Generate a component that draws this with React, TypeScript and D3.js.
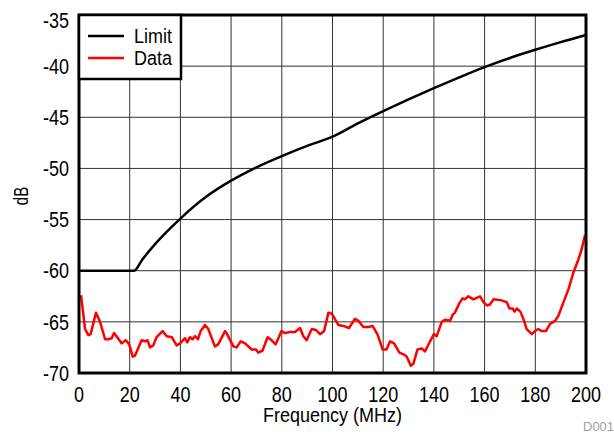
import React, { useEffect, useRef } from 'react';
import * as d3 from 'd3';

// Limit curve (MHz, dB)
const limitFreq = [0, 21.7, 25, 30, 40, 50, 60, 70, 80, 90, 100, 110, 120, 130, 140, 150, 160, 170, 180, 190, 200];
const limitDb = [-60, -60, -58.9, -57.4, -54.9, -52.8, -51.2, -49.9, -48.8, -47.8, -46.9, -45.6, -44.4, -43.25, -42.15, -41.1, -40.1, -39.2, -38.4, -37.65, -36.95];

// Measured data (MHz, dB)
const dataFreq = [
    0.8, 2.4, 3.7, 4.6, 6.7, 8.3, 10.3, 11.6, 12.9, 13.8, 14.8, 16.8, 18.5, 19.8, 21.2, 22.1, 24.7, 26, 27, 28,
    29.3, 30.6, 33, 34.6, 36.6, 38.5, 39.9, 41.8, 42.7, 43.8, 44.8, 45.8, 46.9, 48, 49.7, 51, 53.6, 54.9, 57.6, 58.2,
    60.9, 62.2, 63.8, 65.5, 68.1, 69.8, 70.7, 72.4, 74.4, 76, 77.6, 79.9, 81.2, 83.2, 85.2, 87.2, 88.5, 89.8, 91.8, 93.5,
    95.1, 96.7, 98.4, 99.7, 102.3, 104.3, 106.5, 108.9, 110.2, 112.2, 114.2, 115.8, 117.7, 119.8, 121.3, 122.7, 124.3, 126.4, 128.2, 129.3,
    130.9, 131.9, 133.5, 135.2, 136.5, 138.5, 140, 141.1, 143.1, 144.4, 146.4, 147.4, 148.3, 150, 151.3, 152.2, 153.6, 155.5, 158.2, 159.6,
    161, 162.1, 163.5, 166.7, 168.8, 169.8, 171.1, 171.8, 172.7, 174.1, 175.3, 176.6, 178.6, 179.9, 181.2, 182.5, 184.2, 185.8, 187.8, 189.1,
    191.1, 193.1, 195, 197, 198.3, 199.6,
];
const dataDb = [
    -62.4, -65.7, -66.3, -66.2, -64.1, -65.0, -66.7, -66.7, -66.6, -66.1, -66.4, -67.1, -66.8, -67.2, -68.4, -68.3, -66.8, -66.9, -66.8, -67.5,
    -67.3, -66.5, -65.9, -66.4, -66.5, -67.3, -67.1, -66.6, -67.0, -66.5, -66.7, -66.4, -66.7, -65.9, -65.3, -65.7, -67.4, -67.2, -65.9, -66.1,
    -67.4, -67.5, -66.9, -67.1, -67.7, -67.7, -68.0, -67.8, -66.5, -66.8, -67.2, -65.9, -66.1, -66.0, -66.0, -65.6, -66.4, -66.8, -65.7, -65.8,
    -66.2, -65.9, -64.1, -64.2, -65.3, -65.4, -65.6, -64.7, -64.9, -65.5, -65.5, -65.4, -66.2, -67.7, -67.7, -66.9, -67.1, -68.0, -68.2, -68.4,
    -69.3, -69.1, -67.7, -67.6, -67.9, -66.9, -66.2, -66.4, -65.0, -64.8, -64.9, -64.3, -64.1, -63.2, -62.7, -62.8, -62.5, -62.8, -62.5, -63.1,
    -63.4, -63.3, -62.8, -62.9, -63.1, -63.7, -63.7, -64.0, -63.7, -64.0, -64.7, -65.7, -66.2, -65.9, -65.7, -65.9, -65.9, -65.2, -64.9, -64.4,
    -63.1, -61.8, -60.2, -58.9, -57.9, -56.5,
];

const xTicks = [0, 20, 40, 60, 80, 100, 120, 140, 160, 180, 200];
const yTicks = [-35, -40, -45, -50, -55, -60, -65, -70];
const legendItems = [
    { label: 'Limit', color: '#000000' },
    { label: 'Data', color: '#ff0000' },
];

const W = 614;
const H = 437;
const margin = { top: 15, right: 28, bottom: 64, left: 79 };
const font = '"Liberation Sans", Arial, sans-serif';
const stretch = 1.18; // the original glyphs are taller than they are wide

export default function App() {
    const svgRef = useRef<SVGSVGElement | null>(null);

    useEffect(() => {
        const svg = d3.select(svgRef.current);
        svg.selectAll('*').remove();

        const x = d3.scaleLinear().domain([0, 200]).range([margin.left, W - margin.right]);
        const y = d3.scaleLinear().domain([-70, -35]).range([H - margin.bottom, margin.top]);

        // grid
        const grid = svg.append('g').attr('stroke', '#333').attr('stroke-width', 1);
        xTicks.forEach((t) => {
            grid.append('line')
                .attr('x1', x(t)).attr('x2', x(t))
                .attr('y1', y(-35)).attr('y2', y(-70));
        });
        yTicks.forEach((t) => {
            grid.append('line')
                .attr('x1', x(0)).attr('x2', x(200))
                .attr('y1', y(t)).attr('y2', y(t));
        });

        // tick labels
        svg.append('g').selectAll('text')
            .data(xTicks).enter().append('text')
            .attr('transform', (d) => `translate(${x(d)},402) scale(1,${stretch})`)
            .attr('text-anchor', 'middle')
            .attr('font-family', font).attr('font-size', 18)
            .text((d) => String(d));
        svg.append('g').selectAll('text')
            .data(yTicks).enter().append('text')
            .attr('transform', (d) => `translate(69,${Math.max(y(d), 20.5) + 7.7}) scale(1,${stretch})`)
            .attr('text-anchor', 'end')
            .attr('font-family', font).attr('font-size', 18)
            .text((d) => String(d));

        // axis titles
        svg.append('text')
            .attr('transform', `translate(${(x(0) + x(200)) / 2},422) scale(1,1.12)`)
            .attr('text-anchor', 'middle')
            .attr('font-family', font).attr('font-size', 18)
            .text('Frequency (MHz)');
        svg.append('text')
            .attr('transform', `translate(27.5,${(y(-35) + y(-70)) / 2 + 2}) rotate(-90) scale(1,1.35)`)
            .attr('text-anchor', 'middle')
            .attr('font-family', font).attr('font-size', 15)
            .text('dB');
        svg.append('text')
            .attr('transform', 'translate(583,431) scale(1,1.05)')
            .attr('font-family', font).attr('font-size', 13)
            .attr('fill', '#a0a0a0')
            .text('D001');

        // series
        const limitLine = d3.line<number>()
            .x((d, i) => x(limitFreq[i]))
            .y((d) => y(d))
            .curve(d3.curveMonotoneX);
        svg.append('path')
            .attr('d', limitLine(limitDb))
            .attr('fill', 'none').attr('stroke', '#000').attr('stroke-width', 2.5);

        const dataLine = d3.line<number>()
            .x((d, i) => x(dataFreq[i]))
            .y((d) => y(d));
        svg.append('path')
            .attr('d', dataLine(dataDb))
            .attr('fill', 'none').attr('stroke', '#ff0000').attr('stroke-width', 2.5)
            .attr('stroke-linejoin', 'round');

        // frame
        svg.append('rect')
            .attr('x', x(0)).attr('y', y(-35))
            .attr('width', x(200) - x(0)).attr('height', y(-70) - y(-35))
            .attr('fill', 'none').attr('stroke', '#000').attr('stroke-width', 3);

        // legend
        const lg = svg.append('g').attr('transform', `translate(${x(0)},${y(-35)})`);
        lg.append('rect')
            .attr('width', 102).attr('height', 64)
            .attr('fill', '#fff').attr('stroke', '#000').attr('stroke-width', 2.5);
        legendItems.forEach((item, i) => {
            const cy = 21 + i * 22;
            lg.append('line')
                .attr('x1', 9).attr('x2', 45).attr('y1', cy).attr('y2', cy)
                .attr('stroke', item.color).attr('stroke-width', 2.5);
            lg.append('text')
                .attr('transform', `translate(55,${cy + 7.3}) scale(1,1.12)`)
                .attr('font-family', font).attr('font-size', 18)
                .text(item.label);
        });
    }, []);

    return (
        <svg
            ref={svgRef}
            width={W}
            height={H}
            style={{ position: 'absolute', left: 0, top: 0, background: '#fff' }}
        />
    );
}
